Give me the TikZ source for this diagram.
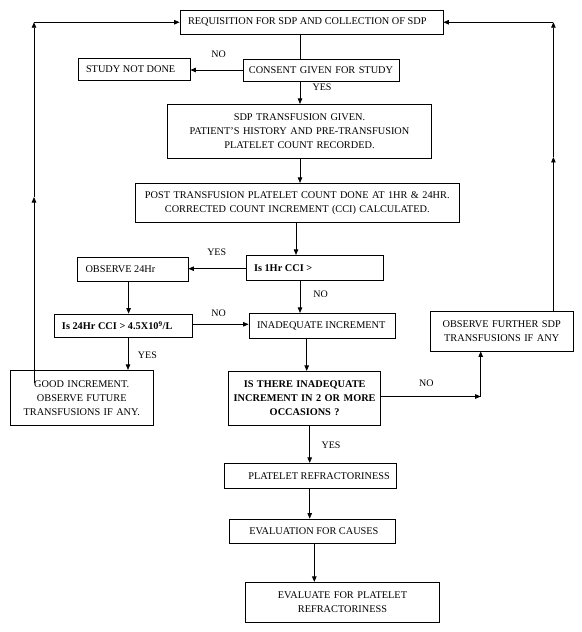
\documentclass[tikz,border=0pt]{standalone}
\usepackage{fontspec}
\setmainfont{Liberation Serif}
\usetikzlibrary{arrows.meta}
\newcommand{\lefttext}[3]{\makebox[#1][l]{\hspace*{#2}#3}}
\begin{document}
\begin{tikzpicture}[x=1bp,y=-1bp,
  font=\fontsize{10.3bp}{14bp}\selectfont,
  box/.style={draw, line width=0.8bp, inner ysep=0pt, rectangle},
  lbox/.style={box, inner xsep=0pt},
  cbox/.style={box, align=center, inner xsep=0pt, text width=#1},
  bf/.style={font=\fontsize{10.3bp}{14bp}\selectfont\bfseries},
  arr/.style={line width=0.8bp, -{Triangle[length=5.5bp,width=4.5bp]}},
  ln/.style={line width=0.8bp},
  lab/.style={inner sep=0pt, font=\fontsize{10bp}{12bp}\selectfont}]
\useasboundingbox (0,0) rectangle (582,632);
\fill[white] (0,0) rectangle (582,632);

\node[lbox, minimum height=24.5bp] (req) at (311.5,22.25) {\lefttext{263bp}{8bp}{REQUISITION FOR SDP AND COLLECTION OF SDP}};
\node[cbox=156bp, minimum height=22bp] (consent) at (321,70) {CONSENT GIVEN FOR STUDY};
\node[lbox, minimum height=21.6bp] (study) at (134,69.5) {\lefttext{112bp}{8bp}{STUDY NOT DONE}};
\node[cbox=264bp, minimum height=53.7bp] (sdp) at (299.5,131.15) {SDP TRANSFUSION GIVEN.\\PATIENT’S HISTORY AND PRE-TRANSFUSION\\PLATELET COUNT RECORDED.};
\node[cbox=323.5bp, minimum height=39bp] (post) at (297.25,202.8) {POST TRANSFUSION PLATELET COUNT DONE AT 1HR \& 24HR.\\CORRECTED COUNT INCREMENT (CCI) CALCULATED.};
\node[lbox, minimum height=25bp, bf] (hr1) at (314.5,267.8) {\lefttext{137bp}{8bp}{Is 1Hr CCI >}};
\node[lbox, minimum height=24bp] (obs24) at (132.5,269.3) {\lefttext{111bp}{8.5bp}{OBSERVE 24Hr}};
\node[lbox, minimum height=23.3bp, bf] (hr24) at (123.35,325.65) {\lefttext{138.7bp}{8bp}{Is 24Hr CCI > 4.5X10\textsuperscript{9}/L}};
\node[lbox, minimum height=25bp] (inadeq) at (322,325.8) {\lefttext{146bp}{8bp}{INADEQUATE INCREMENT}};
\node[cbox=142.6bp, minimum height=39.7bp] (obsfur) at (501.7,331.15) {OBSERVE FURTHER SDP\\TRANSFUSIONS IF ANY};
\node[cbox=142.5bp, minimum height=55bp] (good) at (81.75,397.8) {GOOD INCREMENT.\\OBSERVE FUTURE\\TRANSFUSIONS IF ANY.};
\node[cbox=151.9bp, minimum height=53.7bp, bf] (isthere) at (304.65,398.15) {IS THERE INADEQUATE\\INCREMENT IN 2 OR MORE\\OCCASIONS ?};
\node[lbox, minimum height=25bp] (refr) at (310.5,475.8) {\lefttext{172.4bp}{24bp}{PLATELET REFRACTORINESS}};
\node[lbox, minimum height=24.3bp] (evalc) at (312.5,531.15) {\lefttext{166.4bp}{20bp}{EVALUATION FOR CAUSES}};
\node[cbox=193.6bp, minimum height=40bp] (evalr) at (342.5,602.3) {EVALUATE FOR PLATELET\\REFRACTORINESS};

% labels
\node[lab] (l1) at (218.6,54) {NO};
\node[lab] (l2) at (322,87) {YES};
\node[lab] (l3) at (216.7,252) {YES};
\node[lab] (l4) at (218.6,313.3) {NO};
\node[lab] (l5) at (320.6,294.3) {NO};
\node[lab] (l6) at (147.4,355.3) {YES};
\node[lab] (l7) at (426.3,383.3) {NO};
\node[lab] (l8) at (331,445) {YES};

% connectors
\draw[ln] (req.south -| 300,0) -- (consent.north -| 300,0);
\draw[arr] (consent.west) -- (consent.west -| study.east);
\draw[arr] (consent.south -| 300,0) -- (sdp.north -| 300,0);
\draw[arr] (sdp.south -| 300,0) -- (post.north -| 300,0);
\draw[arr] (post.south -| 296,0) -- (hr1.north -| 296,0);
\draw[arr] (hr1.west |- 0,268.7) -- (obs24.east |- 0,268.7);
\draw[arr] (obs24.south -| 128.6,0) -- (hr24.north -| 128.6,0);
\draw[arr] (hr24.east |- 0,324.3) -- (inadeq.west |- 0,324.3);
\draw[arr] (hr1.south -| 300,0) -- (inadeq.north -| 300,0);
\draw[arr] (hr24.south -| 128,0) -- (good.north -| 128,0);
\draw[arr] (inadeq.south -| 306.7,0) -- (isthere.north -| 306.7,0);
\coordinate (nc) at (480.7,396.5);
\draw[arr] (isthere.east |- nc) -- (nc);
\draw[arr] (nc) -- (nc |- obsfur.south);
\draw[arr] (isthere.south -| 309.7,0) -- (refr.north -| 309.7,0);
\draw[arr] (refr.south -| 309.7,0) -- (evalc.north -| 309.7,0);
\draw[arr] (evalc.south -| 314.3,0) -- (evalr.north -| 314.3,0);

% feedback loops
\coordinate (lb) at (34,383);
\coordinate (lm) at (34,197);
\coordinate (lt) at (req.west -| 34,0);
\draw[arr] (lb) -- (lm);
\draw[arr] (lm) -- (lt);
\draw[arr] (lt) -- (req.west);
\coordinate (rb) at (obsfur.north -| 553.4,0);
\coordinate (rm) at (553.4,157);
\coordinate (rt) at (req.east -| 553.4,0);
\draw[arr] (rb) -- (rm);
\draw[arr] (rm) -- (rt);
\draw[arr] (rt) -- (req.east);
\end{tikzpicture}
\end{document}
